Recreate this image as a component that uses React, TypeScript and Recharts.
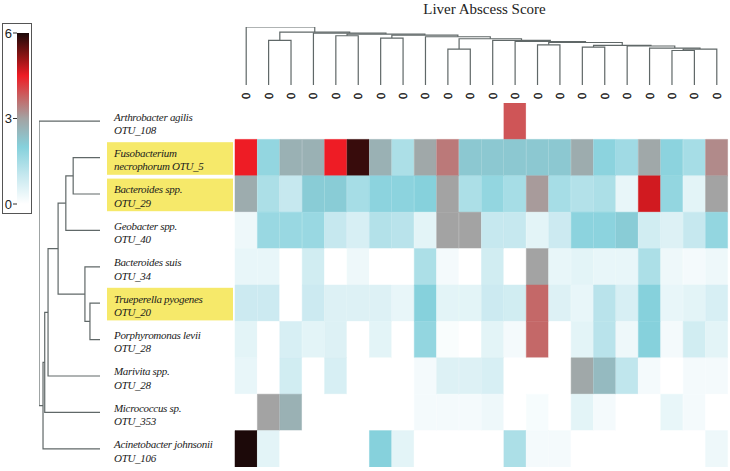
import React from 'react';
import { ComposedChart, BarChart, Bar, Cell, Line, XAxis, YAxis } from 'recharts';

// ---------- data ----------
const scoreLabels = ['0','0','0','0','0','0','0','0','0','0','0','0','0','0','0','0','0','0','0','0','0','0'];
const taxa = ['Arthrobacter agilis','Fusobacterium','Bacteroides spp.','Geobacter spp.','Bacteroides suis','Trueperella pyogenes','Porphyromonas levii','Marivita spp.','Micrococcus sp.','Acinetobacter johnsonii'];
const otus = ['OTU_108','necrophorum OTU_5','OTU_29','OTU_40','OTU_34','OTU_20','OTU_28','OTU_28','OTU_353','OTU_106'];
const highlighted = [false, true, true, false, false, true, false, false, false, false];

const rowArthrobacter = [0,0,0,0,0,0,0,0,0,0,0,0,3.9,0,0,0,0,0,0,0,0,0];
const rowFusobacterium = [4.5,1.8,2.7,2.7,4.5,5.8,2.7,1.4,2.9,3.5,2.2,2.2,2.2,2.2,2.2,2.8,1.9,1.6,2.9,1.9,1.5,3.3];
const rowBacteroides29 = [2.8,1.4,1.0,2.1,2.1,1.5,1.9,1.9,2.0,3.0,1.4,1.8,1.5,3.1,1.5,1.3,1.4,0.4,4.7,1.8,0.5,3.0];
const rowGeobacter = [0.3,1.7,1.7,1.7,1.0,0.7,1.3,1.2,0.5,3.0,3.0,1.0,1.0,0.5,0.9,1.9,1.9,2.1,0.8,0.6,1.0,1.8];
const rowBacteroidesSuis = [0.4,0.4,0,0.8,0,0.3,0,0,1.4,0.2,0,0.8,0,3.0,0.4,0.5,0.4,0.4,1.4,0.3,0.2,0.3];
const rowTrueperella = [0.9,0.9,0,0.9,0.6,0.6,0.6,0.4,2.0,0.5,0.5,0.9,0.8,3.7,0.6,0.4,1.2,0.7,2.0,0.4,0.5,0.7];
const rowPorphyromonas = [0.5,0,0.7,0.5,0.6,0,0.5,0,1.8,0.1,0,0.5,0.2,3.7,0,0.5,1.2,0.3,2.0,0.2,0.8,0.5];
const rowMarivita = [0.4,0,0.8,0,0.7,0,0,0,0.2,0.6,0.6,0.7,0,0,0,2.9,2.5,1.1,0.2,0,0.2,0.2];
const rowMicrococcus = [0,3.0,2.7,0,0,0,0,0,0.2,0.2,0.2,0.3,0,0.15,0,0.5,0.2,0,0,0.4,0.2,0];
const rowAcinetobacter = [6.0,0.5,0,0,0,0,2.0,0.5,0,0,0,0,1.4,0.2,0.2,0,0,0,0,0,0,0.3];
const heatRows = [rowArthrobacter,rowFusobacterium,rowBacteroides29,rowGeobacter,rowBacteroidesSuis,rowTrueperella,rowPorphyromonas,rowMarivita,rowMicrococcus,rowAcinetobacter];

const colorStopValues = [0, 1, 2, 3, 3.7, 4.5, 5.2, 6];
const colorStopColors = ['#ffffff','#c6e8ef','#86d1dc','#a3a3a3','#c46868','#ee1c25','#8a1414','#1c0909'];
const colorbarTicks = [0, 3, 6];
const colorbarMax = 6;

// hclust-style merges: negative = leaf (1-based), positive = earlier merge (1-based)
const colMergePairs = [[-20,-21],[1,-22],[-10,-11],[-19,2],[-16,-17],[-18,4],[5,6],[-14,-15],[8,7],[-13,9],[-2,-3],[-12,10],[3,12],[-7,-8],[-9,13],[-5,-6],[14,15],[16,17],[-4,18],[11,19],[-1,20]];
const colMergeHeights = [34.3,35.7,35.7,36.7,37.7,38.8,39.5,40,42.3,43.3,44.3,44.3,46,46.7,48,49,49.7,50.7,51.7,52.7,57.7];
const rowMergePairs = [[-6,-7],[-5,1],[-2,-3],[3,-4],[4,2],[5,-8],[6,-9],[7,-10],[-1,8]];
const rowMergeHeights = [10,15,26.7,34,41.7,51.7,55,56.7,60.7];

// ---------- helpers ----------
function hexToRgb(h: string) {
  return [parseInt(h.slice(1, 3), 16), parseInt(h.slice(3, 5), 16), parseInt(h.slice(5, 7), 16)];
}
function colorFor(v: number) {
  const vs = colorStopValues;
  if (v <= vs[0]) return colorStopColors[0];
  for (let i = 1; i < vs.length; i++) {
    if (v <= vs[i]) {
      const t = (v - vs[i - 1]) / (vs[i] - vs[i - 1]);
      const a = hexToRgb(colorStopColors[i - 1]);
      const b = hexToRgb(colorStopColors[i]);
      const c = a.map((x, k) => Math.round(x + (b[k] - x) * t));
      return `rgb(${c[0]},${c[1]},${c[2]})`;
    }
  }
  return colorStopColors[colorStopColors.length - 1];
}

// each merge -> a "Π" path: (childA pos, childA h) -> (childA pos, h) -> (childB pos, h) -> (childB pos, childB h)
type Pt = { p: number; h: number };
function dendroPaths(pairs: number[][], heights: number[]): Pt[][] {
  const pos: number[] = [];
  const hts: number[] = [];
  const get = (id: number) => (id < 0 ? { p: -id - 0.5, h: 0 } : { p: pos[id - 1], h: hts[id - 1] });
  const paths: Pt[][] = [];
  pairs.forEach(([a, b], i) => {
    const A = get(a);
    const B = get(b);
    const h = heights[i];
    paths.push([{ p: A.p, h: A.h }, { p: A.p, h }, { p: B.p, h }, { p: B.p, h: B.h }]);
    pos.push((A.p + B.p) / 2);
    hts.push(h);
  });
  return paths;
}

const colPaths = dendroPaths(colMergePairs, colMergeHeights).map((path) => path.map((q) => ({ x: q.p, y: q.h })));
const rowPaths = dendroPaths(rowMergePairs, rowMergeHeights).map((path) => path.map((q) => ({ x: q.h, y: q.p })));

const nCols = scoreLabels.length;
const nRows = taxa.length;
const rowTicks = taxa.map((_, i) => i + 0.5);
const heatColumns = scoreLabels.map((s, c) => ({ col: c, label: s }));
const colorbarData = [{ key: 'scale', top: colorbarMax }];

const serif = "'Liberation Serif', 'DejaVu Serif', 'Times New Roman', serif";
const sans = "'Liberation Sans', Arial, 'DejaVu Sans', sans-serif";
const dendroColor = '#606868';

const ColTick = (props: any) => {
  const { x, y, payload } = props;
  const i = Number(payload.value);
  const cy = y - 7;
  return (
    <text x={x} y={cy} transform={`rotate(90, ${x}, ${cy})`} textAnchor="middle" dominantBaseline="central"
      fontFamily={serif} fontSize={12.5} fill="#111" stroke="#111" strokeWidth={0.4}>{scoreLabels[i]}</text>
  );
};

const RowTick = (props: any) => {
  const { x, y, payload } = props;
  const i = Math.floor(payload.value);
  const txt = { dominantBaseline: 'central' as const, fontFamily: serif, fontStyle: 'italic', fontSize: 11, letterSpacing: -0.3, fill: '#1a1a1a' };
  return (
    <g>
      {highlighted[i] && <rect x={x - 128} y={y - 15.4} width={126} height={32.6} fill="#f6e96a" />}
      <text x={x - 121} y={y - 4.7} {...txt}>{taxa[i]}</text>
      <text x={x - 121} y={y + 8.8} {...txt}>{otus[i]}</text>
    </g>
  );
};

export default function App() {
  return (
    <div style={{ position: 'fixed', left: 0, top: 0, width: 730, height: 471, background: '#fff', overflow: 'hidden' }}>
      {/* title */}
      <div style={{ position: 'absolute', left: 238, top: 0, width: 493, textAlign: 'center', fontFamily: serif, fontSize: 15, lineHeight: '18px', color: '#222' }}>
        Liver Abscess Score
      </div>

      {/* heatmap */}
      <div style={{ position: 'absolute', left: 0, top: 0 }}>
        <BarChart width={730} height={471} data={heatColumns} margin={{ top: 89, right: 2, bottom: 4, left: 105 }}
          barCategoryGap={0} barGap={0}>
          <XAxis type="category" dataKey="col" orientation="top" height={14} interval={0} tickSize={0} tickMargin={0}
            axisLine={false} tickLine={false} tick={<ColTick />} padding={{ left: 0, right: 0 }} />
          <YAxis type="number" width={130} domain={[0, nRows]} reversed ticks={rowTicks} interval={0}
            tickSize={0} tickMargin={0} axisLine={false} tickLine={false} tick={<RowTick />} allowDataOverflow />
          {heatRows.map((row, r) => (
            <Bar key={`r-${r}`} dataKey={() => 1} stackId="heat" isAnimationActive={false}>
              {row.map((v, c) => (
                <Cell key={`c-${r}-${c}`} fill={colorFor(v)} stroke={colorFor(v)} strokeWidth={0.5} />
              ))}
            </Bar>
          ))}
        </BarChart>
      </div>

      {/* top dendrogram */}
      <div style={{ position: 'absolute', left: 0, top: 0 }}>
        <ComposedChart width={730} height={90} margin={{ top: 27, right: 2, bottom: 5, left: 235 }}>
          <XAxis type="number" dataKey="x" domain={[0, nCols]} hide allowDataOverflow />
          <YAxis type="number" domain={[0, colMergeHeights[colMergeHeights.length - 1]]} hide allowDataOverflow />
          {colPaths.map((path, i) => (
            <Line key={`t-${i}`} data={path} dataKey="y" type="linear" stroke={dendroColor} strokeWidth={1.2}
              dot={false} activeDot={false} isAnimationActive={false} />
          ))}
        </ComposedChart>
      </div>

      {/* left dendrogram */}
      <div style={{ position: 'absolute', left: 0, top: 0 }}>
        <ComposedChart width={105} height={471} margin={{ top: 103, right: 5, bottom: 4, left: 39 }}>
          <XAxis type="number" dataKey="x" domain={[0, rowMergeHeights[rowMergeHeights.length - 1]]} reversed hide allowDataOverflow />
          <YAxis type="number" domain={[0, nRows]} reversed hide allowDataOverflow />
          {rowPaths.map((path, i) => (
            <Line key={`l-${i}`} data={path} dataKey="y" type="linear" stroke={dendroColor} strokeWidth={1.2}
              dot={false} activeDot={false} isAnimationActive={false} />
          ))}
        </ComposedChart>
      </div>

      {/* colour key */}
      <div style={{ position: 'absolute', left: 2, top: 23, width: 28, height: 189, border: '1px solid #555', background: '#fff' }}>
        <BarChart width={28} height={189} data={colorbarData} margin={{ top: 9, right: 2, bottom: 9, left: 0 }}
          barCategoryGap={0}>
          <defs>
            <linearGradient id="cbarGrad" x1="0" y1="1" x2="0" y2="0">
              {colorStopValues.map((v, i) => (
                <stop key={i} offset={`${(v / colorbarMax) * 100}%`} stopColor={colorStopColors[i]} />
              ))}
            </linearGradient>
          </defs>
          <XAxis type="category" dataKey="key" hide />
          <YAxis type="number" width={14} domain={[0, colorbarMax]} ticks={colorbarTicks} interval={0} tickSize={4} tickMargin={1}
            axisLine={false} tickLine={{ stroke: '#333' }} tick={{ fontFamily: sans, fontSize: 13, fill: '#222' }} allowDataOverflow />
          <Bar dataKey="top" fill="url(#cbarGrad)" isAnimationActive={false} />
        </BarChart>
      </div>
    </div>
  );
}
